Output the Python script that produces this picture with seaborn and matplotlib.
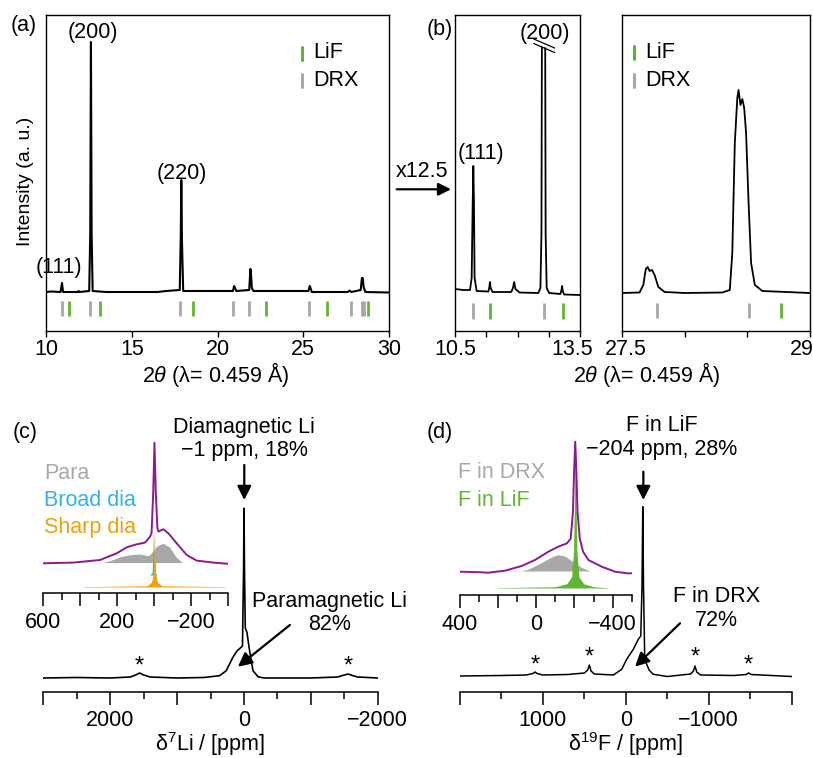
import matplotlib.pyplot as plt
import matplotlib.transforms as mtransforms
import seaborn as sns

sns.set_style('ticks')
plt.rcParams['font.family'] = ['Liberation Sans', 'DejaVu Sans']
plt.rcParams['mathtext.fontset'] = 'custom'
plt.rcParams['mathtext.rm'] = 'Liberation Sans'
plt.rcParams['mathtext.it'] = 'Liberation Sans:italic'
plt.rcParams['text.color'] = 'black'
plt.rcParams['axes.labelcolor'] = 'black'
plt.rcParams['xtick.color'] = 'black'

GRAY = '#a8a8a8'
GREEN = '#62b532'
PURPLE = '#8b1a8b'
BLUE = '#33b2ea'
ORANGE = '#f0a00a'
FS = 15.5

# ---------------- data ----------------
# (a) full XRD pattern, 2theta vs intensity (a.u.)
xrd_a_tt = [10.0, 10.3, 10.85, 10.93, 11.0, 11.85, 11.9, 11.95, 12.52, 12.58, 12.62, 12.66, 12.72,
            13.5, 16.5, 17.0, 17.8, 17.86, 17.89, 17.93, 18.0, 20.9, 20.97, 21.02, 21.1, 21.85,
            21.92, 21.95, 22.0, 22.1, 25.3, 25.38, 25.42, 25.5, 27.6, 27.7, 27.8, 28.35, 28.42,
            28.47, 28.52, 28.62, 30.0]
xrd_a_int = [1, 1.5, 1, 10, 1, 1, 2, 1, 2, 60, 251, 60, 2,
             1, 1, 2, 3, 60, 113, 50, 2, 2, 7, 5, 2, 3,
             24, 20, 5, 2, 2, 7, 5, 1, 1, 2.5, 1, 3, 15,
             15, 6, 1, 0.5]
drx_ticks_a = [10.93, 12.59, 17.79, 20.90, 21.84, 25.31, 27.76, 28.44, 28.52]
lif_ticks_a = [11.36, 13.13, 18.57, 22.81, 26.39, 28.78]

# (b) zoomed XRD, low angle part (split at the (200) break)
xrd_b1_tt = [10.50, 10.70, 10.86, 10.90, 10.925, 10.94, 10.955, 10.97, 11.02, 11.30, 11.325,
             11.34, 11.355, 11.40, 11.85, 11.89, 11.92, 11.95, 12.05, 12.50, 12.55, 12.575, 12.585]
xrd_b1_int = [4, 3, 3, 15, 90, 127, 90, 15, 2, 1.5, 6,
              11, 5, 1, 1, 5, 11, 4, 0.5, 0, 5, 60, 246]
xrd_b1r_tt = [12.665, 12.675, 12.70, 12.76, 13.03, 13.055, 13.07, 13.085, 13.12, 13.5]
xrd_b1r_int = [245, 60, 5, 0, -1, 3, 7, 2, -1.5, -2]
drx_ticks_b1 = [10.94, 12.63]
lif_ticks_b1 = [11.34, 13.08]

# (b) zoomed XRD, high angle part
xrd_b2_tt = [27.5, 27.64, 27.67, 27.69, 27.705, 27.72, 27.74, 27.76, 27.79, 27.84, 28.0,
             28.30, 28.36, 28.38, 28.40, 28.42, 28.43, 28.445, 28.46, 28.475, 28.49, 28.51,
             28.53, 28.56, 28.62, 29.0]
xrd_b2_int = [0, 0.5, 8, 24, 26, 22, 23, 18, 6, 1, 0,
              0.5, 3, 40, 150, 195, 203, 188, 194, 185, 160, 90,
              30, 8, 2, 0]
drx_ticks_b2 = [27.78, 28.51]
lif_ticks_b2 = [28.77]

# (c) 7Li NMR
li_ppm = [3000, 2500, 2000, 1700, 1620, 1560, 1500, 1400, 1000, 600, 364, 264, 165, 105, 54, 22,
          5, -1, -8, -20, -45, -85, -135, -210, -300, -1000, -1400, -1500, -1560, -1620, -1700, -2000]
li_int = [0, 0.5, 0, 1, 3, 5, 3, 1, 0, 0.5, 2.3, 7.3, 20.7, 27, 30, 32,
          110, 169.7, 110, 50, 45.7, 27, 7.3, 1.3, 0, 0, 1, 3, 4, 2.5, 1, 0]
li_fit_ppm = [600, 438, 294, 203, 149, 95, 50, 23, 15, 6, -1, -8, -17, -22, -49, -76, -121, -175,
              -229, -319, -400]
li_fit_int = [0, 0.7, 3.3, 10, 16, 19, 20.7, 26.7, 30, 70, 120.6, 70, 35, 31.7, 34, 30, 20, 8.3,
              2.7, 0.7, -0.5]
para_ppm = [311, 240, 185, 131, 77, 32, 14, -13, -49, -85, -121, -157, -180]
para_int = [0, 3.3, 7.3, 9.3, 10, 8.3, 11.7, 18.3, 20.7, 16.7, 6.7, 0.7, 0]
broad_ppm = [25, 12, 8, 5, 2, -2, -15]
broad_int = [-11.7, -9, 5, 33, 5, -9, -11.7]
sharp_ppm = [384, 40, 15, 5, 1, -1, -3, -7, -17, -42, -382]
sharp_int = [-23.3, -22.5, -19, -10, 15, 36.7, 15, -10, -19, -22.5, -23.3]
li_sidebands = [1560, -1560]

# (d) 19F NMR
f_ppm = [2000, 1500, 1200, 1120, 1095, 1070, 1000, 700, 500, 460, 440, 420, 380, 150, 50, -10,
         -90, -150, -180, -195, -204, -213, -228, -245, -280, -330, -500, -780, -815, -834, -855,
         -900, -1300, -1450, -1480, -1510, -2000]
f_int = [0, 0.5, 1, 2.5, 4, 2.5, 1, 1.5, 3, 6, 11, 5, 2, 1, 6.7, 16.7,
         26.7, 36.7, 40, 90, 169.3, 90, 15, 13, 6, 1.7, -0.5, 2, 5, 10, 4,
         1, 0.5, 1.5, 3, 1.5, -0.5]
f_fit_ppm = [400, 300, 252, 164, 77, 7, -63, -115, -160, -180, -192, -198, -204, -210, -216, -228,
             -245, -273, -343, -413, -483, -500]
f_fit_int = [0, -0.5, -1, 1, 5.7, 11.7, 20, 25, 28.3, 33, 60, 100, 130, 100, 60, 33,
             20, 11.7, 5, 0, -1.7, -1.5]
fdrx_ppm = [112, 42, -28, -81, -115, -151, -186, -238, -291, -320]
fdrx_int = [0, 3.3, 10, 15.7, 17.7, 16.3, 11.7, 5, 0.7, 0]
flif_ppm = [200, -100, -160, -185, -195, -200, -204, -208, -213, -223, -248, -300, -376]
flif_int = [-16, -15, -12, -5, 20, 70, 115, 70, 20, -5, -12, -15, -16]
f_sidebands = [1095, 440, -834, -1480]
f_sideband_h = [11, 19.3, 19.3, 11]

# ---------------- figure ----------------
W, H = 813, 758
fig = plt.figure(figsize=(W / 100, H / 100), dpi=100)


def box(l, t, r, b):
    return fig.add_axes([l / W, 1 - b / H, (r - l) / W, (b - t) / H])


def ftxt(x, y, s, **kw):
    kw.setdefault('fontsize', FS)
    kw.setdefault('ha', 'center')
    kw.setdefault('va', 'center')
    fig.text(x / W, 1 - y / H, s, **kw)


def fbar(x, y, color):
    fig.add_artist(plt.Line2D([x / W, x / W], [1 - (y - 6.5) / H, 1 - (y + 6.5) / H],
                              color=color, lw=2.2))


def trace(ax, x, y, color='k', lw=1.2):
    sns.lineplot(x=x, y=y, ax=ax, sort=False, estimator=None, color=color, linewidth=lw)


def shift_label(ax, idx, dx):
    lab = ax.get_xticklabels()[idx]
    lab.set_transform(lab.get_transform() +
                      mtransforms.ScaledTranslation(dx / 100, 0, fig.dpi_scale_trans))


def xrd_axes(ax, xlim, ticks, labels):
    ax.set_xlim(*xlim)
    ax.set_ylim(-38, 278)
    ax.set_yticks([])
    ax.set_xticks(ticks, labels)
    ax.tick_params(axis='x', direction='out', length=4, width=1, labelsize=FS, pad=1.5)
    for s in ax.spines.values():
        s.set_linewidth(1.0)
        s.set_color('k')


# (a)
ax_a = box(46, 15, 389, 331)
trace(ax_a, xrd_a_tt, xrd_a_int, lw=1.5)
ax_a.vlines(drx_ticks_a, -8, -23, color=GRAY, lw=2)
ax_a.vlines(lif_ticks_a, -8, -23, color=GREEN, lw=2)
xrd_axes(ax_a, (10, 30), [10, 15, 20, 25, 30], ['10', '15', '20', '25', '30'])
ax_a.text(12.73, 260.5, '(200)', fontsize=FS, ha='center', va='center')
ax_a.text(17.93, 119, '(220)', fontsize=FS, ha='center', va='center')
ax_a.text(10.73, 25, '(111)', fontsize=FS, ha='center', va='center')
ftxt(24, 26, '(a)')
ftxt(26, 181, 'Intensity (a. u.)', rotation=90, fontsize=14)
ftxt(216, 375, r'2$\it{\theta}$ (λ= 0.459 Å)')
fbar(302, 53, GREEN)
fbar(302, 80, GRAY)
ftxt(313, 53, 'LiF', ha='left')
ftxt(313, 80, 'DRX', ha='left')

# (b) left
ax_b1 = box(455, 15, 580, 331)
trace(ax_b1, xrd_b1_tt, xrd_b1_int, lw=1.3)
trace(ax_b1, xrd_b1r_tt, xrd_b1r_int, lw=1.3)
ax_b1.vlines(drx_ticks_b1, -10, -26, color=GRAY, lw=2)
ax_b1.vlines(lif_ticks_b1, -10, -26, color=GREEN, lw=2)
xrd_axes(ax_b1, (10.5, 13.5), [10.5, 11.25, 12.0, 12.75, 13.5], ['10.5', '', '', '', '13.5'])
shift_label(ax_b1, 4, -8)
ax_b1.plot([12.39, 12.89], [254, 245], color='k', lw=0.9)
ax_b1.plot([12.39, 12.89], [249.5, 240.5], color='k', lw=0.9)
ax_b1.text(11.12, 140, '(111)', fontsize=FS, ha='center', va='center')
ax_b1.text(12.65, 260, '(200)', fontsize=FS, ha='center', va='center')
ftxt(440, 30, '(b)')

# (b) right
ax_b2 = box(622, 15, 810, 331)
trace(ax_b2, xrd_b2_tt, xrd_b2_int, lw=1.3)
ax_b2.vlines(drx_ticks_b2, -10, -25, color=GRAY, lw=2)
ax_b2.vlines(lif_ticks_b2, -10, -25, color=GREEN, lw=2)
xrd_axes(ax_b2, (27.5, 29.0), [27.5, 28.0, 28.5, 29.0], ['27.5', '', '', '29'])
shift_label(ax_b2, 0, 4)
shift_label(ax_b2, 3, -8)
fbar(634, 52, GREEN)
fbar(634, 80, GRAY)
ftxt(645, 52, 'LiF', ha='left')
ftxt(645, 80, 'DRX', ha='left')
ftxt(647, 375, r'2$\it{\theta}$ (λ= 0.459 Å)')

# x12.5 arrow
ftxt(421.5, 171.5, 'x12.5')
ax_a.annotate('', xy=(451, H - 189.3), xytext=(396.7, H - 189.3), xycoords='figure pixels',
              textcoords='figure pixels', annotation_clip=False,
              arrowprops=dict(arrowstyle='-|>', mutation_scale=19, lw=1.6, color='k',
                              shrinkA=0, shrinkB=0))


def nmr_axes(ax, xlim, ylim, major, minor, labels):
    ax.set_facecolor('none')
    ax.set_xlim(*xlim)
    ax.set_ylim(*ylim)
    ax.set_yticks([])
    for s in ['top', 'left', 'right']:
        ax.spines[s].set_visible(False)
    ax.spines['bottom'].set_linewidth(1.1)
    ax.spines['bottom'].set_color('k')
    ax.set_xticks(major, labels)
    ax.set_xticks(minor, minor=True)
    ax.tick_params(axis='x', which='major', direction='out', length=9, width=1.1,
                   labelsize=FS, pad=4.5)
    ax.tick_params(axis='x', which='minor', direction='out', length=5, width=1.1)


arrow_kw = dict(arrowstyle='-|>', mutation_scale=21, lw=1.6, color='k', shrinkA=0, shrinkB=0)

# (c) main
ax_c = box(43.3, 500, 377.7, 691.7)
trace(ax_c, li_ppm, li_int, lw=1.2)
nmr_axes(ax_c, (3000, -2000), (-13.7, 178),
         [3000, 2000, 1000, 0, -1000, -2000], [2500, 1500, 500, -500, -1500],
         ['', '2000', '', '0', '', '\u22122000'])
for p in li_sidebands:
    ax_c.text(p, 11, '*', fontsize=17, ha='center', va='center')
ax_c.text(0, 239, 'Diamagnetic Li\n\u22121 ppm, 18%', fontsize=FS, ha='center', va='center',
          linespacing=1.15)
ax_c.annotate('', xy=(-5, 178), xytext=(-5, 213), annotation_clip=False, arrowprops=arrow_kw)
ax_c.text(-1285, 64.7, 'Paramagnetic Li\n82%', fontsize=FS, ha='center', va='center',
          linespacing=1.15)
ax_c.annotate('', xy=(90, 11.3), xytext=(-687, 53), annotation_clip=False, arrowprops=arrow_kw)
ftxt(25, 432, '(c)')
ftxt(210, 744, r'δ$^{7}$Li / [ppm]')

# (c) inset
ax_ci = box(43.3, 440, 228.3, 593.3)
ax_ci.fill_between(para_ppm, para_int, 0, color=GRAY, edgecolor='white', lw=1.0)
ax_ci.fill_between(broad_ppm, broad_int, -11.7, color=BLUE, lw=0)
ax_ci.plot([384, -382], [-23.3, -23.3], color=ORANGE, lw=0.6, alpha=0.5)
ax_ci.fill_between(sharp_ppm, sharp_int, -23.3, color=ORANGE, lw=0)
trace(ax_ci, li_fit_ppm, li_fit_int, color=PURPLE, lw=1.4)
nmr_axes(ax_ci, (600, -400), (-30, 123.3),
         [600, 400, 200, 0, -200, -400], [500, 300, 100, -100, -300],
         ['600', '', '200', '', '\u2212200', ''])
ftxt(44, 473.5, 'Para', ha='left', color=GRAY)
ftxt(44, 500, 'Broad dia', ha='left', color=BLUE)
ftxt(44, 528, 'Sharp dia', ha='left', color=ORANGE)

# (d) main
ax_d = box(460, 500, 791.7, 691.7)
trace(ax_d, f_ppm, f_int, lw=1.1)
nmr_axes(ax_d, (2000, -2000), (-15.7, 176),
         [2000, 1000, 0, -1000, -2000], [1500, 500, -500, -1500],
         ['', '1000', '0', '\u22121000', ''])
for p, h in zip(f_sidebands, f_sideband_h):
    ax_d.text(p, h - 1, '*', fontsize=17, ha='center', va='center')
ax_d.text(-433, 238.5, 'F in LiF\n\u2212204 ppm, 28%', fontsize=FS, ha='center', va='center',
          linespacing=1.15)
ax_d.annotate('', xy=(-211, 176), xytext=(-211, 204.3), annotation_clip=False,
              arrowprops=arrow_kw)
ax_d.text(-1096, 67.7, 'F in DRX\n72%', fontsize=FS, ha='center', va='center', linespacing=1.15)
ax_d.annotate('', xy=(-111, 9.3), xytext=(-653, 52.7), annotation_clip=False,
              arrowprops=arrow_kw)
ftxt(440, 432, '(d)')
ftxt(625, 744, r'δ$^{19}$F / [ppm]')

# (d) inset
ax_di = box(460, 440, 631.7, 595)
ax_di.fill_between(fdrx_ppm, fdrx_int, 0, color=GRAY, edgecolor='white', lw=1.0)
ax_di.plot([200, -376], [-16, -16], color=GREEN, lw=0.6, alpha=0.4)
ax_di.fill_between(flif_ppm, flif_int, -16, color=GREEN, lw=0)
trace(ax_di, f_fit_ppm, f_fit_int, color=PURPLE, lw=1.4)
nmr_axes(ax_di, (400, -500), (-23.3, 131.7),
         [400, 200, 0, -200, -400], [300, 100, -100, -300, -500],
         ['400', '', '0', '', '\u2212400'])
ftxt(458, 473, 'F in DRX', ha='left', color=GRAY)
ftxt(458, 500, 'F in LiF', ha='left', color=GREEN)

fig.savefig('out.png', dpi=100)
